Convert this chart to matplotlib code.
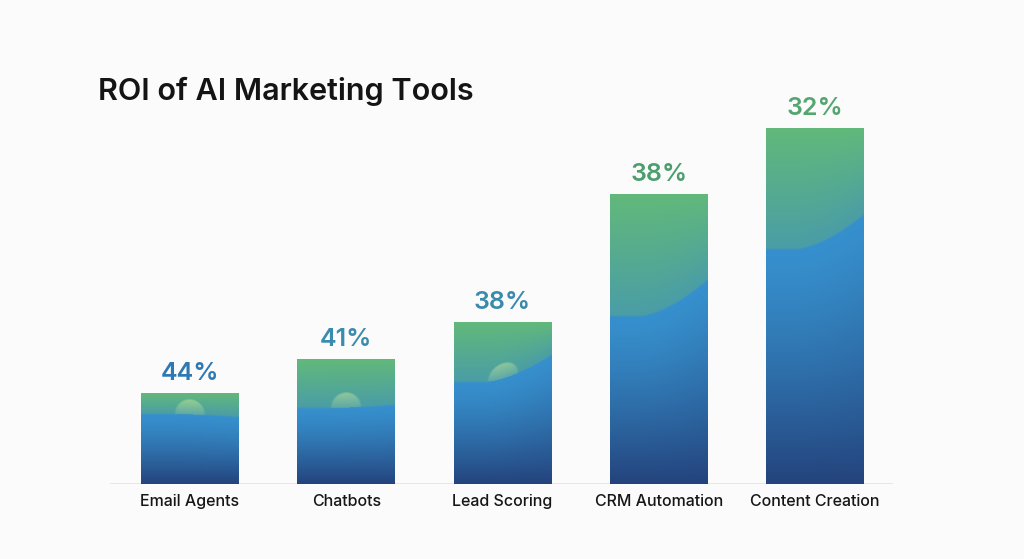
import numpy as np
import matplotlib
matplotlib.use("Agg")
import matplotlib.pyplot as plt
from matplotlib.colors import to_rgb

# data (bar heights in chart units, labels as printed)
categories = ["Email Agents", "Chatbots", "Lead Scoring", "CRM Automation", "Content Creation"]
bar_heights = [91, 125, 162, 290, 356]
value_labels = ["44%", "41%", "38%", "38%", "32%"]
label_colors = ["#2E78B4", "#3A8CAE", "#3A8AAC", "#4C9E6E", "#54A671"]
# depth of the green cap below the bar top, left and right edge
cap_left = [21, 49, 60, 122, 121]
cap_right = [24, 46, 33, 86, 87]
has_glow = [True, True, True, False, False]

plt.rcParams['font.family'] = ['Inter', 'DejaVu Sans']

fig = plt.figure(figsize=(10.24, 5.59), dpi=100, facecolor="#FBFBFB")
ax = fig.add_axes([110 / 1024, 75 / 559, 783 / 1024, 400 / 559])
ax.set_facecolor("#FBFBFB")
for s in ax.spines.values():
    s.set_visible(False)
ax.set_yticks([])
ax.set_xticks(range(len(categories)))
ax.set_xticklabels(categories, fontsize=11.5, color="#161616", fontweight="medium")
ax.tick_params(axis="x", length=0, pad=7)

green_top = np.array(to_rgb("#62B97A"))
green_bot = np.array(to_rgb("#4A9DA6"))
blue_top = np.array(to_rgb("#3690CD"))
blue_bot = np.array(to_rgb("#24437C"))
glow_col = np.array(to_rgb("#DDF2A0"))

width = 0.627
for i, h in enumerate(bar_heights):
    x0 = i - width / 2
    W = 100
    H = int(h)
    u = np.linspace(0, 1, W)[None, :]
    y = np.arange(H)[:, None] + 0.5          # from bottom
    depth = h - y                             # from top
    dl, dr = cap_left[i], cap_right[i]
    ramp = np.clip((u - 0.3) / 0.7, 0, 1) ** 1.6
    bnd = dl - (dl - dr) * ramp              # boundary depth
    green_t = np.clip(depth / bnd, 0, 1)[..., None]
    green = green_top * (1 - green_t) + green_bot * green_t
    blue_t = np.clip((depth - bnd) / (h - bnd), 0, 1)[..., None] ** 1.3
    blue = blue_top * (1 - blue_t) + blue_bot * blue_t
    soft = np.clip((depth - bnd) / 2.0 + 0.5, 0, 1)[..., None]
    img = green * (1 - soft) + blue * soft
    if has_glow[i]:
        px = (u - 0.5) * 98
        py = bnd - depth
        dist = np.sqrt(px ** 2 + py ** 2)
        r = 16
        w = np.where((py > 0) & (dist < r), 0.45 * (0.3 + 0.7 * py / r), 0.0)
        w = w * np.clip((r - dist) / 2, 0, 1)
        img = img * (1 - w[..., None]) + glow_col * w[..., None]
    ax.imshow(img, extent=[x0, x0 + width, 0, h], origin="lower",
              aspect="auto", interpolation="bilinear", zorder=2)
    ax.text(i, h + 8, value_labels[i], ha="center", va="bottom",
            fontsize=18, fontweight="semibold", color=label_colors[i], zorder=3)

ax.axhline(0, color="#E2E2E2", lw=1.2, zorder=1)
ax.set_xlim(-0.512, 4.499)
ax.set_ylim(0, 400)

fig.text(98 / 1024, 1 - 100 / 559, "ROI of AI Marketing Tools", fontsize=22,
         fontweight="semibold", color="#141414", ha="left", va="baseline")

fig.savefig("out.png", dpi=100, facecolor=fig.get_facecolor())
